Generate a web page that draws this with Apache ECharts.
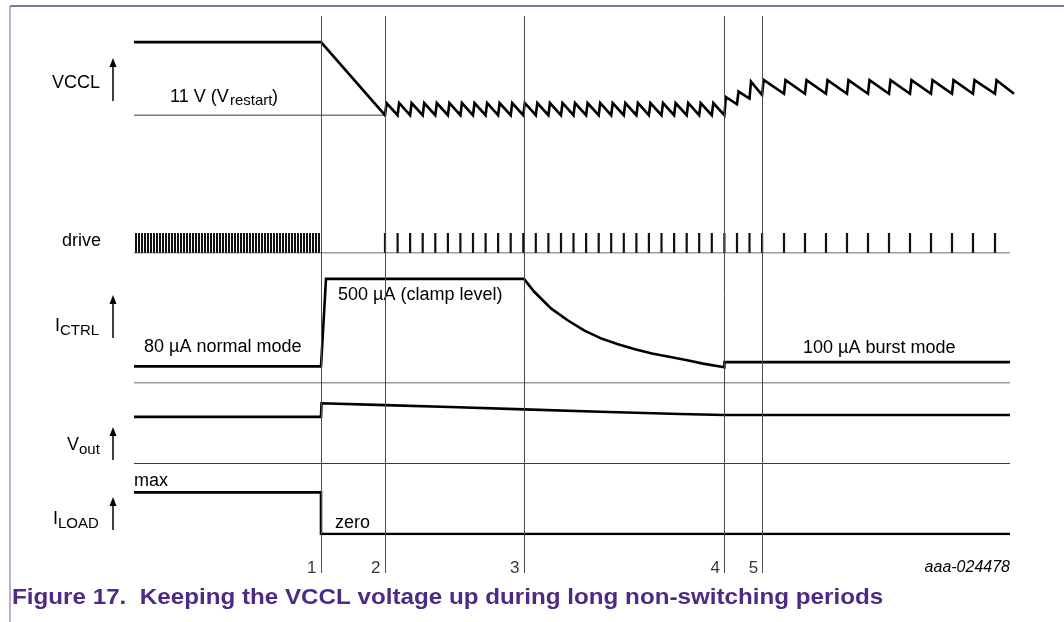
<!DOCTYPE html>
<html>
<head>
<meta charset="utf-8">
<title>Figure 17</title>
<script src="https://cdn.jsdelivr.net/npm/echarts@6/dist/echarts.min.js"></script>
<style>
  html, body { margin: 0; padding: 0; background: #fff; }
  #chart { width: 1064px; height: 622px; }
</style>
</head>
<body>
<div id="chart"></div>
<script>
// time in arbitrary units, 0 = start of the traces
const eventT = [187, 251, 390, 590.4, 628.6];
const eventNames = ['1', '2', '3', '4', '5'];

// drive pulses from point 2 on; the VCCL sawtooth jumps on each of them
const pulseT = [251, 263.6, 276.1, 288.7, 301.3, 313.9, 326.4, 339, 351.6, 364.1,
  376.7, 389.3, 401.8, 414.4, 427, 439.5, 452.1, 464.7, 477.2, 489.8,
  502.4, 514.9, 527.5, 540.1, 552.7, 565.2, 577.8, 590.4, 603, 615.5,
  628.1, 650, 671, 692, 713, 734, 755, 776, 797, 818, 839, 861];
// normal mode switching before point 1 (too dense to read pulse by pulse)
const denseDrive = [0, 187];

// VCCL (V)
const vcclStartT = [0, 187];
const vcclStartV = [14, 14];
const toothLow = [11, 11, 11, 11, 11, 11, 11, 11, 11, 11,
  11, 11, 11, 11, 11, 11, 11, 11, 11, 11,
  11, 11, 11, 11, 11, 11, 11, 11, 11.45, 11.68,
  11.83, 11.88, 11.88, 11.88, 11.88, 11.88, 11.88, 11.88, 11.88, 11.88, 11.88, 11.88];
const toothHigh = [11.5, 11.5, 11.5, 11.5, 11.5, 11.5, 11.5, 11.5, 11.5, 11.5,
  11.5, 11.5, 11.5, 11.5, 11.5, 11.5, 11.5, 11.5, 11.5, 11.5,
  11.5, 11.5, 11.5, 11.5, 11.5, 11.5, 11.5, 11.75, 11.97, 12.38,
  12.45, 12.44, 12.44, 12.44, 12.44, 12.44, 12.44, 12.44, 12.44, 12.44, 12.44, 12.44];
const vcclEnd = [880, 11.88];
const vRestart = 11;
const riseTime = 1.5;

// ICTRL (uA)
const ictrlT = [0, 187, 192, 390, 400, 417, 434, 450.5, 467, 484, 501, 518, 535, 552, 569, 590.4, 590.4, 876];
const ictrlUA = [80, 80, 500, 500, 439, 358, 300, 251, 214, 186, 162, 142, 126, 110, 93, 76, 100, 100];

// Vout (relative to nominal)
const voutT = [0, 187, 187.5, 251, 316, 390, 466, 546, 590.4, 876];
const voutV = [1, 1, 1.29, 1.25, 1.21, 1.16, 1.11, 1.06, 1.04, 1.04];

// ILOAD (relative to max)
const iloadT = [0, 187, 187, 876];
const iloadV = [1, 1, 0, 0];

const traceEnd = 876;

const FONT = 'Liberation Sans, Arial, sans-serif';
const zip = (xs, ys) => xs.map((x, i) => [x, ys[i]]);

const vcclData = zip(vcclStartT, vcclStartV);
pulseT.forEach((t, i) => {
  vcclData.push([t, toothLow[i]]);
  vcclData.push([t + riseTime, toothHigh[i]]);
});
vcclData.push(vcclEnd);

// stripe pattern for the dense switching block
const pat = document.createElement('canvas');
pat.width = 3; pat.height = 4;
const pc = pat.getContext('2d');
pc.fillStyle = '#fff'; pc.fillRect(0, 0, 3, 4);
pc.fillStyle = '#111'; pc.fillRect(0, 0, 2, 4);

const grids = [
  { top: 16, height: 557 },      // event lines
  { top: 30, height: 109.5 },    // VCCL
  { top: 233, height: 20 },      // drive
  { top: 258, height: 125 },     // ICTRL
  { top: 393.5, height: 70 },    // Vout
  { top: 484, height: 50 }       // ILOAD
];
const yRanges = [[0, 1], [10, 14.5], [0, 1], [0, 600], [0, 1.5], [0, 1.2]];

const thick = { color: '#000', width: 2.6, join: 'miter', miterLimit: 4 };
const thin = { color: '#3a3a3a', width: 1 };

function line(idx, data, style) {
  return {
    type: 'line', xAxisIndex: idx, yAxisIndex: idx, data: data,
    showSymbol: false, symbol: 'none', lineStyle: style, silent: true
  };
}

function arrow(x, yBottom, yTop) {
  return [
    { type: 'line', shape: { x1: x, y1: yBottom, x2: x, y2: yTop + 6 }, style: { stroke: '#000', lineWidth: 1.5 } },
    { type: 'polygon', shape: { points: [[x - 3.5, yTop + 9], [x + 3.5, yTop + 9], [x, yTop]] }, style: { fill: '#000' } }
  ];
}

function txt(text, x, y, size, extra) {
  return {
    type: 'text',
    style: Object.assign({
      text: text, x: x, y: y, fill: '#000',
      font: size + 'px ' + FONT, textVerticalAlign: 'middle'
    }, extra || {})
  };
}

const chart = echarts.init(document.getElementById('chart'));
chart.setOption({
  animation: false,
  backgroundColor: '#fff',
  grid: grids.map(g => Object.assign({ left: 134, width: 880 }, g)),
  xAxis: grids.map((g, i) => ({ gridIndex: i, type: 'value', min: 0, max: 880, show: false })),
  yAxis: yRanges.map((r, i) => ({ gridIndex: i, type: 'value', min: r[0], max: r[1], show: false })),
  series: [
    {
      type: 'scatter', xAxisIndex: 0, yAxisIndex: 0,
      data: eventT.map((t, i) => ({ value: [t, 0.009], name: eventNames[i] })),
      symbolSize: 1, itemStyle: { color: 'rgba(0,0,0,0)' },
      label: {
        show: true, position: 'left', distance: 4, formatter: '{b}',
        color: '#000', fontSize: 17, fontFamily: FONT
      },
      markLine: {
        silent: true, symbol: 'none',
        label: { show: false },
        lineStyle: { color: '#4a4a4a', width: 1, type: 'solid' },
        data: eventT.map(t => ({ xAxis: t }))
      }
    },
    line(1, [[0, vRestart], [pulseT[0], vRestart]], thin),
    line(1, vcclData, thick),
    line(2, [[0, 0], [traceEnd, 0]], thin),
    {
      type: 'bar', xAxisIndex: 2, yAxisIndex: 2,
      data: pulseT.map(t => [t, 1]),
      barWidth: 2.2, itemStyle: { color: '#111' }, silent: true,
      markArea: {
        silent: true,
        itemStyle: { color: { image: pat, repeat: 'repeat' }, opacity: 1 },
        data: [[{ xAxis: denseDrive[0] }, { xAxis: denseDrive[1] }]]
      }
    },
    line(3, [[0, 0], [traceEnd, 0]], thin),
    line(3, zip(ictrlT, ictrlUA), thick),
    line(4, [[0, 0], [traceEnd, 0]], thin),
    line(4, zip(voutT, voutV), thick),
    line(5, zip(iloadT, iloadV), thick)
  ],
  graphic: [
    { type: 'line', shape: { x1: 10, y1: 6, x2: 1064, y2: 6 }, style: { stroke: '#5e3c92', lineWidth: 1.5 } },
    { type: 'line', shape: { x1: 10, y1: 6, x2: 10, y2: 622 }, style: { stroke: '#a58fc8', lineWidth: 1.5 } },
    ...arrow(113, 101, 58),
    ...arrow(113, 338, 295),
    ...arrow(113, 460, 427),
    ...arrow(113, 530, 497),
    txt('VCCL', 52, 83.5, 18),
    txt('11 V (V', 170, 97, 18),
    txt('restart', 230, 101, 15),
    txt(')', 272, 97, 18),
    txt('drive', 62, 241, 18),
    txt('I', 55, 326, 18),
    txt('CTRL', 60, 331, 15),
    txt('80 µA normal mode', 144, 347, 18),
    txt('500 µA (clamp level)', 338, 295, 18),
    txt('100 µA burst mode', 803, 348, 18),
    txt('V', 67, 445, 18),
    txt('out', 79, 450, 15),
    txt('max', 134, 481, 18),
    txt('I', 53, 519, 18),
    txt('LOAD', 58, 524, 15),
    txt('zero', 335, 523, 18),
    txt('aaa-024478', 1010, 568, 16, { textAlign: 'right', font: 'italic 16px ' + FONT }),
    Object.assign(
      txt('Figure 17.  Keeping the VCCL voltage up during long non-switching periods', 12, 598, 22,
        { font: 'bold 22px ' + FONT, fill: '#4e2a84' }),
      { originX: 12, originY: 598, scaleX: 1.1 }
    )
  ]
});
window.addEventListener('resize', chart.resize);
</script>
</body>
</html>
